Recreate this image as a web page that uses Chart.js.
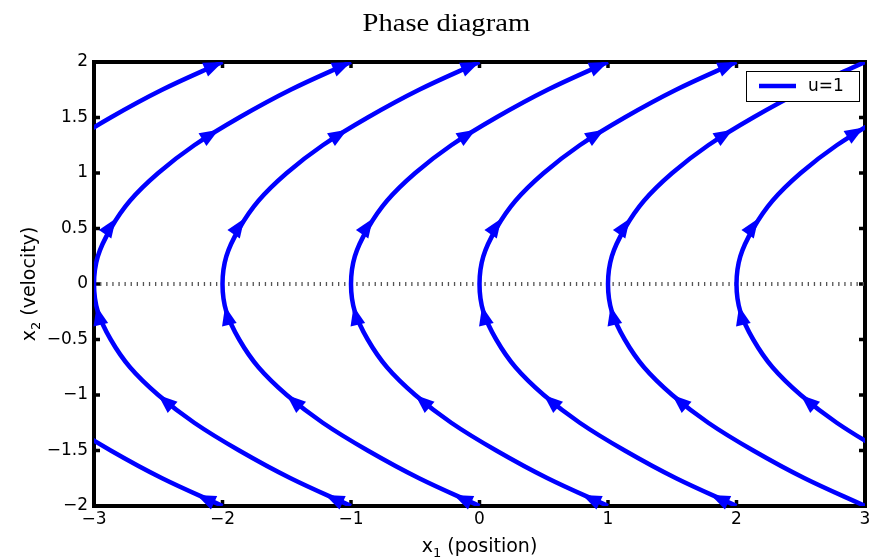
<!DOCTYPE html>
<html>
<head>
<meta charset="utf-8">
<title>Phase diagram</title>
<script src="https://cdn.jsdelivr.net/npm/chart.js@4.4.1/dist/chart.umd.min.js"></script>
<style>
  html, body { margin: 0; padding: 0; background: #fff; }
</style>
</head>
<body>
<canvas id="phase-chart" width="879" height="559"></canvas>
<script>
// velocity samples (x2) shared by every trajectory
const velocity = [-2, -1.75, -1.5, -1.25, -1, -0.75, -0.5, -0.25, 0, 0.25, 0.5, 0.75, 1, 1.25, 1.5, 1.75, 2];

// position (x1) of each trajectory at those velocities
const trajM4 = [-2, -2.47, -2.87, -3.22, -3.5, -3.72, -3.87, -3.97, -4, -3.97, -3.87, -3.72, -3.5, -3.22, -2.87, -2.47, -2];
const trajM3 = [-1, -1.47, -1.87, -2.22, -2.5, -2.72, -2.87, -2.97, -3, -2.97, -2.87, -2.72, -2.5, -2.22, -1.87, -1.47, -1];
const trajM2 = [0, -0.47, -0.87, -1.22, -1.5, -1.72, -1.87, -1.97, -2, -1.97, -1.87, -1.72, -1.5, -1.22, -0.87, -0.47, 0];
const trajM1 = [1, 0.53, 0.13, -0.22, -0.5, -0.72, -0.87, -0.97, -1, -0.97, -0.87, -0.72, -0.5, -0.22, 0.13, 0.53, 1];
const traj0 = [2, 1.53, 1.13, 0.78, 0.5, 0.28, 0.13, 0.03, 0, 0.03, 0.13, 0.28, 0.5, 0.78, 1.13, 1.53, 2];
const trajP1 = [3, 2.53, 2.13, 1.78, 1.5, 1.28, 1.13, 1.03, 1, 1.03, 1.13, 1.28, 1.5, 1.78, 2.13, 2.53, 3];
const trajP2 = [4, 3.53, 3.13, 2.78, 2.5, 2.28, 2.13, 2.03, 2, 2.03, 2.13, 2.28, 2.5, 2.78, 3.13, 3.53, 4];
const trajectories = [trajM4, trajM3, trajM2, trajM1, traj0, trajP1, trajP2];

// arrow head tips (x1, x2)
const arrowX = [-2.2, -2,
  -1.2, -2.5, -2.98, -2.83, -2.03, -1,
  -0.2, -1.5, -1.98, -1.83, -1.03, 0,
  0.8, -0.5, -0.98, -0.83, -0.03, 1,
  1.8, 0.5, 0.02, 0.17, 0.97, 2,
  1.5, 1.02, 1.17, 1.97,
  2.5, 2.02, 2.17, 2.99];
const arrowY = [-1.9, 2,
  -1.9, -1, -0.2, 0.59, 1.39, 2,
  -1.9, -1, -0.2, 0.59, 1.39, 2,
  -1.9, -1, -0.2, 0.59, 1.39, 2,
  -1.9, -1, -0.2, 0.59, 1.39, 2,
  -1, -0.2, 0.59, 1.39,
  -1, -0.2, 0.59, 1.41];

// dotted x2 = 0 reference line
const zeroLineX = [-3, 3];
const zeroLineY = [0, 0];

const xTicks = [-3, -2, -1, 0, 1, 2, 3];
const yTicks = [-2, -1.5, -1, -0.5, 0, 0.5, 1, 1.5, 2];
const inputU = 1;
const seriesLabel = 'u=1';

const curveColor = '#0000ff';
const sansFont = '"DejaVu Sans", Verdana, sans-serif';
const serifFont = '"Liberation Serif", "Times New Roman", serif';

const fmtTick = v => (v < 0 ? '\u2212' + Math.abs(v) : String(v));

// frame with inward ticks on all four sides
const framePlugin = {
  id: 'frame',
  beforeDatasetsDraw(chart) {
    const { ctx, chartArea: a, scales } = chart;
    ctx.save();
    ctx.strokeStyle = '#000';
    ctx.lineWidth = 4;
    ctx.strokeRect(a.left, a.top, a.width, a.height);
    ctx.lineWidth = 3.5;
    const tl = 6;
    ctx.beginPath();
    xTicks.forEach(v => {
      const px = scales.x.getPixelForValue(v);
      ctx.moveTo(px, a.bottom); ctx.lineTo(px, a.bottom - tl);
      ctx.moveTo(px, a.top); ctx.lineTo(px, a.top + tl);
    });
    yTicks.forEach(v => {
      const py = scales.y.getPixelForValue(v);
      ctx.moveTo(a.left, py); ctx.lineTo(a.left + tl, py);
      ctx.moveTo(a.right, py); ctx.lineTo(a.right - tl, py);
    });
    ctx.stroke();
    ctx.restore();
  }
};

// arrow heads along the flow direction (x1' = x2, x2' = u)
const arrowPlugin = {
  id: 'arrowHeads',
  afterDatasetsDraw(chart) {
    const { ctx, scales: { x: sx, y: sy } } = chart;
    ctx.save();
    ctx.fillStyle = curveColor;
    arrowX.forEach((ax, i) => {
      const ay = arrowY[i];
      const px = sx.getPixelForValue(ax), py = sy.getPixelForValue(ay);
      const dx = sx.getPixelForValue(ax + ay * 0.01) - px;
      const dy = sy.getPixelForValue(ay + inputU * 0.01) - py;
      const len = Math.hypot(dx, dy);
      const ux = dx / len, uy = dy / len;
      const L = 19, W = 7.5;
      const bx = px - ux * L, by = py - uy * L;
      ctx.beginPath();
      ctx.moveTo(px, py);
      ctx.lineTo(bx - uy * W, by + ux * W);
      ctx.lineTo(bx + uy * W, by - ux * W);
      ctx.closePath();
      ctx.fill();
    });
    ctx.restore();
  }
};

function drawSubLabel(ctx, main, sub, rest, cx, baseY) {
  const big = '19px ' + sansFont, small = '13px ' + sansFont;
  ctx.font = big;
  const wMain = ctx.measureText(main).width;
  const wRest = ctx.measureText(rest).width;
  ctx.font = small;
  const wSub = ctx.measureText(sub).width;
  let x = cx - (wMain + wSub + wRest) / 2;
  ctx.textAlign = 'left';
  ctx.textBaseline = 'alphabetic';
  ctx.font = big;
  ctx.fillText(main, x, baseY);
  x += wMain;
  ctx.font = small;
  ctx.fillText(sub, x, baseY + 5);
  x += wSub;
  ctx.font = big;
  ctx.fillText(rest, x, baseY);
}

// title, axis labels and legend box
const textPlugin = {
  id: 'texts',
  afterDraw(chart) {
    const { ctx, chartArea: a } = chart;
    ctx.save();
    ctx.fillStyle = '#000';
    ctx.save();
    ctx.translate(a.left + a.width * 0.457, 31);
    ctx.scale(1.1, 1);
    ctx.font = '26px ' + serifFont;
    ctx.textAlign = 'center';
    ctx.textBaseline = 'alphabetic';
    ctx.fillText('Phase diagram', 0, 0);
    ctx.restore();

    drawSubLabel(ctx, 'x', '1', ' (position)', (a.left + a.right) / 2, 552);

    ctx.save();
    ctx.translate(35, (a.top + a.bottom) / 2);
    ctx.rotate(-Math.PI / 2);
    drawSubLabel(ctx, 'x', '2', ' (velocity)', 0, 0);
    ctx.restore();

    // legend
    const bw = 113, bh = 30;
    const bx = a.right - 6 - bw, by = a.top + 9;
    ctx.fillStyle = '#fff';
    ctx.fillRect(bx, by, bw, bh);
    ctx.strokeStyle = '#000';
    ctx.lineWidth = 1;
    ctx.strokeRect(bx + 0.5, by + 0.5, bw, bh);
    ctx.strokeStyle = curveColor;
    ctx.lineWidth = 4.5;
    ctx.beginPath();
    ctx.moveTo(bx + 13, by + bh / 2);
    ctx.lineTo(bx + 50, by + bh / 2);
    ctx.stroke();
    ctx.fillStyle = '#000';
    ctx.font = '17px ' + sansFont;
    ctx.textAlign = 'left';
    ctx.textBaseline = 'middle';
    ctx.fillText(chart.data.datasets[0].label, bx + 62, by + bh / 2 + 1);
    ctx.restore();
  }
};

const datasets = trajectories.map((xs, i) => ({
  label: seriesLabel,
  data: xs.map((x, k) => ({ x: x, y: velocity[k] })),
  showLine: true,
  borderColor: curveColor,
  borderWidth: 4.5,
  pointRadius: 0,
  tension: 0.35,
  order: 0
}));
datasets.push({
  label: 'x2 = 0',
  data: zeroLineX.map((x, k) => ({ x: x, y: zeroLineY[k] })),
  showLine: true,
  borderColor: '#555',
  borderWidth: 4,
  borderDash: [1.3, 4.8],
  pointRadius: 0,
  order: 1
});

new Chart(document.getElementById('phase-chart'), {
  type: 'scatter',
  data: { datasets: datasets },
  options: {
    responsive: false,
    animation: false,
    devicePixelRatio: 1,
    layout: { padding: { top: 62, right: 14, left: 0, bottom: 0 } },
    plugins: {
      legend: { display: false },
      title: { display: false },
      tooltip: { enabled: false }
    },
    scales: {
      x: {
        type: 'linear',
        min: -3,
        max: 3,
        afterBuildTicks: s => { s.ticks = xTicks.map(v => ({ value: v })); },
        afterFit: s => { s.height = 53; },
        grid: { display: false, drawTicks: false },
        border: { display: false },
        ticks: {
          padding: 3,
          maxRotation: 0,
          autoSkip: false,
          color: '#000',
          font: { family: sansFont, size: 17 },
          callback: v => fmtTick(v)
        }
      },
      y: {
        type: 'linear',
        min: -2,
        max: 2,
        afterBuildTicks: s => { s.ticks = yTicks.map(v => ({ value: v })); },
        afterFit: s => { s.width = 94; },
        grid: { display: false, drawTicks: false },
        border: { display: false },
        ticks: {
          padding: 6,
          autoSkip: false,
          color: '#000',
          font: { family: sansFont, size: 17 },
          callback: v => fmtTick(v)
        }
      }
    }
  },
  plugins: [framePlugin, arrowPlugin, textPlugin]
});
</script>
</body>
</html>
